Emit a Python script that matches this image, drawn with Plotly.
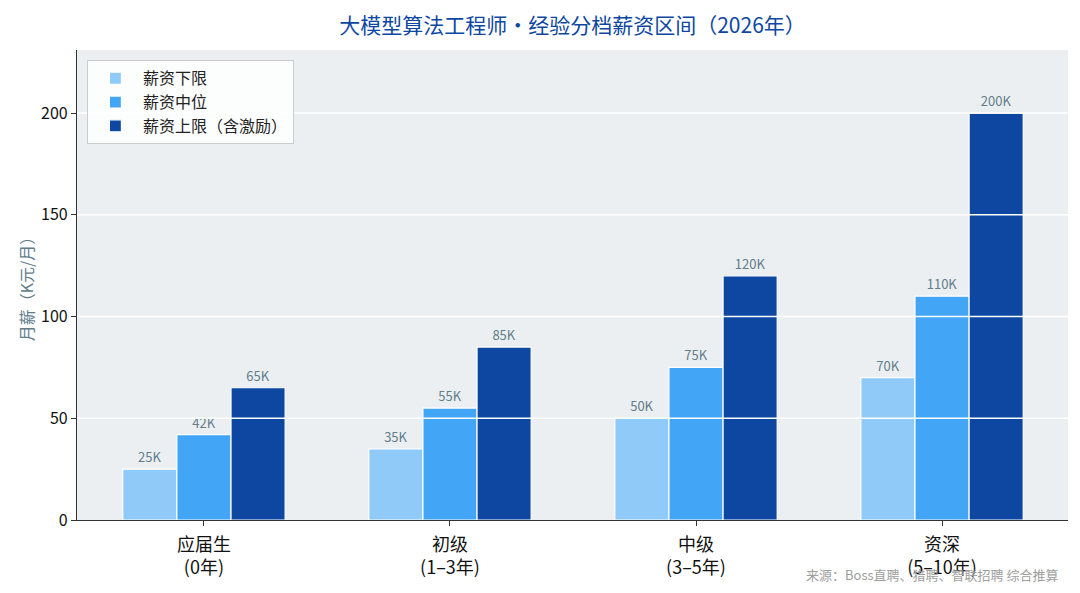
import plotly.graph_objects as go

levels = ["应届生<br>(0年)", "初级<br>(1–3年)", "中级<br>(3–5年)", "资深<br>(5–10年)"]
low = [25, 35, 50, 70]
mid = [42, 55, 75, 110]
high = [65, 85, 120, 200]
grid_vals = [50, 100, 150, 200]

series = [
    ("薪资下限", low, "#90CAF9"),
    ("薪资中位", mid, "#42A5F5"),
    ("薪资上限（含激励）", high, "#0D47A1"),
]

fig = go.Figure()
for name, vals, color in series:
    fig.add_trace(go.Bar(
        x=levels, y=vals, name=name,
        marker=dict(color=color, line=dict(color="white", width=1.2)),
        text=[f"{v}K" for v in vals],
        textposition="outside",
        textfont=dict(color="#607D8B", size=13),
        cliponaxis=False,
    ))

# white grid lines drawn over the bars
for g in grid_vals:
    fig.add_shape(type="line", xref="paper", x0=0, x1=1, yref="y", y0=g, y1=g,
                  line=dict(color="white", width=1.5), layer="above")

# page body keeps an 8px margin, so the figure is a bit smaller than the window
fig.update_layout(
    width=1064, height=577,
    margin=dict(l=69, r=4, t=42, b=65),
    font=dict(family="Noto Sans CJK SC", color="#222222"),
    paper_bgcolor="white",
    plot_bgcolor="#ECEFF1",
    barmode="group",
    bargap=0.34,
    bargroupgap=0,
    title=dict(text="大模型算法工程师·经验分档薪资区间（2026年）",
               x=0.5, xref="paper", y=0.97, yanchor="middle",
               font=dict(size=21, color="#0D47A1")),
    legend=dict(x=0.01, y=0.978, xanchor="left", yanchor="top",
                bgcolor="rgba(255,255,255,0.85)", bordercolor="#CCCCCC", borderwidth=1,
                font=dict(size=16), traceorder="normal", itemwidth=45),
    showlegend=True,
)
fig.update_xaxes(
    range=[-0.516, 3.512], showgrid=False, showline=True, linecolor="#333333", linewidth=1.2,
    ticks="outside", ticklen=5, tickcolor="#333333", tickfont=dict(size=18, color="#111111"),
    ticklabelstandoff=3, automargin=False,
)
fig.update_yaxes(
    range=[0, 231], showgrid=False, zeroline=False, showline=True, linecolor="#333333",
    linewidth=1.2, ticks="outside", ticklen=5, tickcolor="#333333",
    tickvals=[0, 50, 100, 150, 200], tickfont=dict(size=16, color="#111111"),
    title=dict(text="月薪（K元/月）", font=dict(size=16, color="#607D8B"), standoff=3),
    automargin=False,
)
fig.add_annotation(text="来源：Boss直聘、猎聘、智联招聘 综合推算", xref="paper", yref="paper",
                   x=0.993, y=-0.115, xanchor="right", yanchor="middle", showarrow=False,
                   font=dict(size=13, color="#9E9E9E"))

fig.write_html("out.html")
